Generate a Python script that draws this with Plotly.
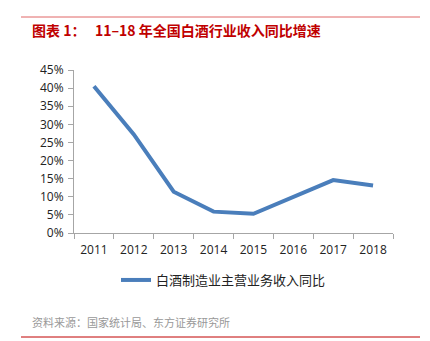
import plotly.graph_objects as go

years = ["2011", "2012", "2013", "2014", "2015", "2016", "2017", "2018"]
growth = [0.405, 0.272, 0.114, 0.059, 0.053, 0.101, 0.146, 0.131]
series_name = "白酒制造业主营业务收入同比"
y_ticks = [0, 0.05, 0.10, 0.15, 0.20, 0.25, 0.30, 0.35, 0.40, 0.45]
y_tick_text = ["0%", "5%", "10%", "15%", "20%", "25%", "30%", "35%", "40%", "45%"]
title_text = "图表 1：   11–18 年全国白酒行业收入同比增速"
source_text = "资料来源：国家统计局、东方证券研究所"

W, H = 430, 341
L, R, T, B = 74, 37, 70, 108
pw, ph = W - L - R, H - T - B

def px(x):
    return (x - L) / pw

def py(y):
    return (H - B - y) / ph

fig = go.Figure()
fig.add_trace(go.Scatter(
    x=years, y=growth, mode="lines", name=series_name,
    line=dict(color="#4A7EBB", width=4),
))

font_cjk = "Noto Sans CJK SC"
fig.update_layout(
    width=W, height=H,
    margin=dict(l=L, r=R, t=T, b=B),
    paper_bgcolor="white", plot_bgcolor="white",
    font=dict(family=font_cjk, size=11, color="#222"),
    showlegend=True,
    legend=dict(orientation="h", x=px(116), y=py(280), xanchor="left", yanchor="middle",
                font=dict(size=13, color="#222", family=font_cjk),
                bgcolor="rgba(0,0,0,0)", itemwidth=30),
    xaxis=dict(
        type="category", showline=True, linecolor="#A6A6A6", linewidth=1,
        ticks="outside", ticklen=5, tickcolor="#A6A6A6", tickson="boundaries",
        showgrid=False, zeroline=False, ticklabelstandoff=6,
        tickfont=dict(size=12, color="#222", family="Open Sans"),
        range=[-0.5, 7.5],
    ),
    yaxis=dict(
        range=[0, 0.45], tickvals=y_ticks, ticktext=y_tick_text,
        showline=True, linecolor="#A6A6A6", linewidth=1,
        ticks="outside", ticklen=5, tickcolor="#A6A6A6",
        showgrid=False, zeroline=False, ticklabelstandoff=2,
        tickfont=dict(size=12, color="#222", family="Open Sans"),
    ),
)

fig.add_shape(type="line", xref="paper", yref="paper",
              x0=px(21), x1=px(420), y0=py(17), y1=py(17),
              line=dict(color="#E06666", width=1))
fig.add_shape(type="line", xref="paper", yref="paper",
              x0=px(21), x1=px(420), y0=py(337), y1=py(337),
              line=dict(color="#C00000", width=1))
fig.add_annotation(xref="paper", yref="paper", x=px(30), y=py(30),
                   xanchor="left", yanchor="middle", showarrow=False,
                   text="<b>" + title_text + "</b>",
                   font=dict(size=14, color="#C00000", family=font_cjk))
fig.add_annotation(xref="paper", yref="paper", x=px(30), y=py(322),
                   xanchor="left", yanchor="middle", showarrow=False,
                   text=source_text,
                   font=dict(size=11, color="#999999", family=font_cjk))

fig.write_html("out.html")
